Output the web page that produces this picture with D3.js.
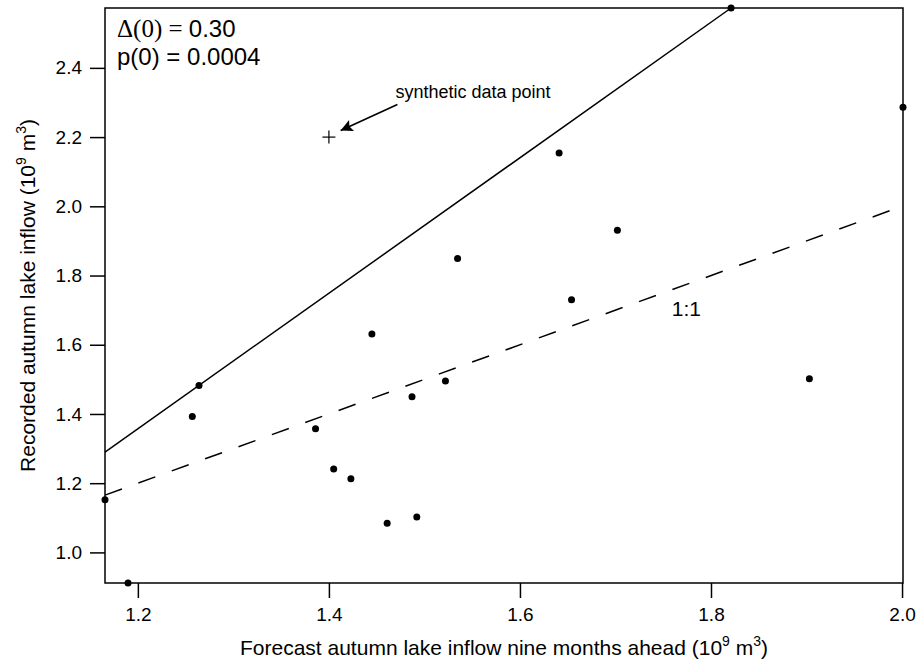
<!DOCTYPE html>
<html>
<head>
<meta charset="utf-8">
<script src="https://cdn.jsdelivr.net/npm/d3@7"></script>
<style>
  html, body { margin: 0; padding: 0; background: #fff; }
  svg { display: block; font-family: "Liberation Sans", Arial, Helvetica, sans-serif; }
</style>
</head>
<body>
<svg id="chart" width="917" height="666"></svg>
<script>
// ---- data ----
const forecastX = [1.264, 1.257, 1.386, 1.405, 1.423, 1.1656, 1.1897, 1.5347, 1.445, 1.522,
                   1.487, 1.461, 1.492, 1.641, 1.702, 1.654, 1.903, 1.821, 2.001];
const recordedY = [1.482, 1.393, 1.3575, 1.241, 1.213, 1.152, 0.9116, 1.849, 1.631, 1.495,
                   1.450, 1.084, 1.102, 2.154, 1.931, 1.730, 1.502, 2.573, 2.286];
const syntheticX = [1.4];
const syntheticY = [2.2];
const fitLineX = [1.1656, 1.821];
const fitLineY = [1.290, 2.573];
const xTicks = [1.2, 1.4, 1.6, 1.8, 2.0];
const yTicks = [1.0, 1.2, 1.4, 1.6, 1.8, 2.0, 2.2, 2.4];
const arrowTail = [1.4717, 2.294];
const arrowHead = [1.4123, 2.219];
const arrowLabelPos = [1.4697, 2.314];
const oneToOneLabelPos = [1.759, 1.684];

(function () {
// ---- layout ----
const svg = d3.select("#chart");
const mLeft = 105, mRight = 903, mTop = 8, mBottom = 583;

const x = d3.scaleLinear().domain(d3.extent(forecastX)).range([mLeft, mRight]);
const y = d3.scaleLinear().domain(d3.extent(recordedY)).range([mBottom, mTop]);

const fmt = d3.format(".1f");

// axes
const xAxis = svg.append("g").attr("transform", `translate(0,${mBottom})`)
  .call(d3.axisBottom(x).tickValues(xTicks).tickFormat(fmt).tickSize(15).tickPadding(10));
const yAxis = svg.append("g").attr("transform", `translate(${mLeft},0)`)
  .call(d3.axisLeft(y).tickValues(yTicks).tickFormat(fmt).tickSize(15).tickPadding(8));
[xAxis, yAxis].forEach(g => {
  g.select(".domain").remove();
  g.selectAll(".tick line").attr("stroke", "#000").attr("stroke-width", 1.5);
  g.selectAll(".tick text").attr("fill", "#000").style("font-size", "19px")
    .style("font-family", '"Liberation Sans", Arial, sans-serif');
});

// frame
svg.append("rect").attr("x", mLeft).attr("y", mTop)
  .attr("width", mRight - mLeft).attr("height", mBottom - mTop)
  .attr("fill", "none").attr("stroke", "#000").attr("stroke-width", 1.5);

// 1:1 line
const xExt = d3.extent(forecastX);
svg.append("line")
  .attr("x1", x(xExt[0])).attr("y1", y(xExt[0]))
  .attr("x2", x(xExt[1])).attr("y2", y(xExt[1]))
  .attr("stroke", "#000").attr("stroke-width", 1.5)
  .attr("stroke-dasharray", "18,17.5");

// fitted line
svg.append("line")
  .attr("x1", x(fitLineX[0])).attr("y1", y(fitLineY[0]))
  .attr("x2", x(fitLineX[1])).attr("y2", y(fitLineY[1]))
  .attr("stroke", "#000").attr("stroke-width", 1.5);

// points
svg.append("g").selectAll("circle")
  .data(forecastX.map((v, i) => [v, recordedY[i]]))
  .join("circle")
  .attr("cx", d => x(d[0])).attr("cy", d => y(d[1]))
  .attr("r", 3.5).attr("fill", "#000");

// synthetic point (plus)
const plus = svg.append("g").selectAll("g")
  .data(syntheticX.map((v, i) => [v, syntheticY[i]]))
  .join("g")
  .attr("transform", d => `translate(${x(d[0])},${y(d[1])})`);
plus.append("line").attr("x1", -6.5).attr("x2", 6.5).attr("stroke", "#000").attr("stroke-width", 1.2);
plus.append("line").attr("y1", -6.5).attr("y2", 6.5).attr("stroke", "#000").attr("stroke-width", 1.2);

// arrow
svg.append("defs").append("marker")
  .attr("id", "arrowhead").attr("viewBox", "0 0 10 10")
  .attr("refX", 10).attr("refY", 5)
  .attr("markerUnits", "userSpaceOnUse")
  .attr("markerWidth", 22).attr("markerHeight", 12)
  .attr("orient", "auto")
  .append("path").attr("d", "M0,0 L10,5 L0,10 L2,5 z").attr("fill", "#000");
svg.append("line")
  .attr("x1", x(arrowTail[0])).attr("y1", y(arrowTail[1]))
  .attr("x2", x(arrowHead[0])).attr("y2", y(arrowHead[1]))
  .attr("stroke", "#000").attr("stroke-width", 1.6)
  .attr("marker-end", "url(#arrowhead)");

svg.append("text")
  .attr("x", x(arrowLabelPos[0])).attr("y", y(arrowLabelPos[1]))
  .style("font-size", "18px").text("synthetic data point");

// 1:1 label
svg.append("text")
  .attr("x", x(oneToOneLabelPos[0])).attr("y", y(oneToOneLabelPos[1]))
  .style("font-size", "21px").text("1:1");

// stats annotation
const ann = svg.append("text").attr("x", 117).attr("y", 37).style("font-size", "24px");
ann.append("tspan").style("font-family", '"Liberation Serif", "Times New Roman", serif')
  .style("font-size", "25px").text("\u0394(0) = ");
ann.append("tspan").text("0.30");
svg.append("text").attr("x", 117).attr("y", 65).style("font-size", "24px").text("p(0) = 0.0004");

// axis titles
function unitTitle(sel, main) {
  sel.append("tspan").text(main + " (10");
  sel.append("tspan").attr("dy", -9).style("font-size", "14px").text("9");
  sel.append("tspan").attr("dy", 9).text(" m");
  sel.append("tspan").attr("dy", -9).style("font-size", "14px").text("3");
  sel.append("tspan").attr("dy", 9).text(")");
}
const xt = svg.append("text")
  .attr("x", (mLeft + mRight) / 2).attr("y", 655)
  .attr("text-anchor", "middle").style("font-size", "21px");
unitTitle(xt, "Forecast autumn lake inflow nine months ahead");

const yt = svg.append("text")
  .attr("transform", `translate(35,${(mTop + mBottom) / 2}) rotate(-90)`)
  .attr("text-anchor", "middle").style("font-size", "21px");
unitTitle(yt, "Recorded autumn lake inflow");
})();
</script>
</body>
</html>
